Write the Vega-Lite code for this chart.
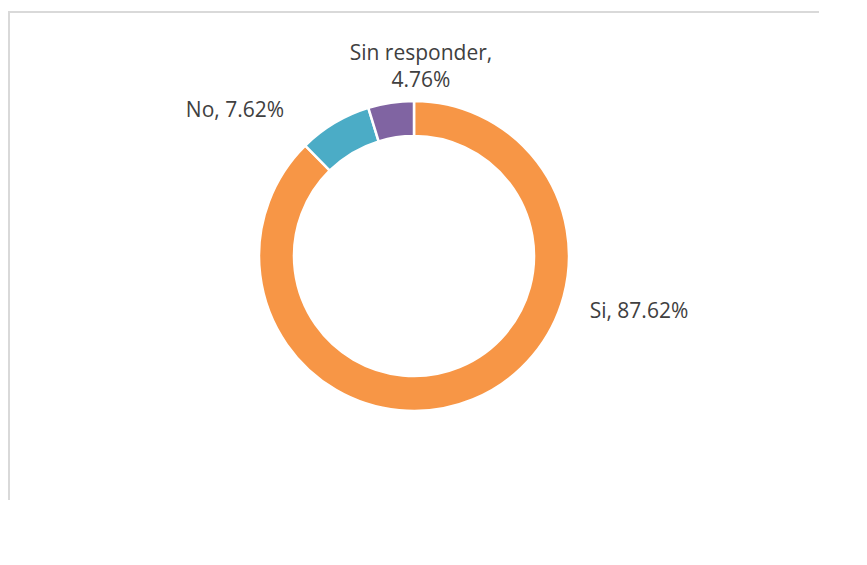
{
  "$schema": "https://vega.github.io/schema/vega-lite/v6.json",
  "width": 810,
  "height": 488,
  "autosize": {"type": "none"},
  "padding": {"left": 9, "top": 12, "right": 0, "bottom": 0},
  "background": "white",
  "view": {"stroke": "#d9d9d9", "strokeWidth": 2, "strokeDash": [810, 1298, 488]},
  "data": {
    "values": [
      {"cat": "Si", "valor": 87.62, "orden": 1, "etiqueta": "Si, 87.62%"},
      {"cat": "No", "valor": 7.62, "orden": 2, "etiqueta": "No, 7.62%"},
      {"cat": "Sin responder", "valor": 4.76, "orden": 3, "etiqueta": "Sin responder,\n4.76%"}
    ]
  },
  "encoding": {
    "theta": {"field": "valor", "type": "quantitative", "stack": true},
    "order": {"field": "orden", "type": "quantitative"}
  },
  "layer": [
    {
      "mark": {"type": "arc", "outerRadius": 155, "innerRadius": 120, "stroke": "white", "strokeWidth": 2.5},
      "encoding": {
        "color": {
          "field": "cat",
          "type": "nominal",
          "scale": {"domain": ["Si", "No", "Sin responder"], "range": ["#F79646", "#4BACC6", "#8064A2"]},
          "legend": null
        }
      }
    },
    {
      "mark": {"type": "text", "radius": 175, "dx": 158.6, "dy": -106, "fontSize": 21, "font": "Open Sans", "color": "#404040", "baseline": "middle", "align": "center"},
      "encoding": {
        "text": {"condition": {"test": "datum.cat === 'Si'", "field": "etiqueta"}, "value": ""}
      }
    },
    {
      "mark": {"type": "text", "radius": 175, "dx": -89.3, "dy": 5, "fontSize": 21, "font": "Open Sans", "color": "#404040", "baseline": "middle", "align": "center"},
      "encoding": {
        "text": {"condition": {"test": "datum.cat === 'No'", "field": "etiqueta"}, "value": ""}
      }
    },
    {
      "mark": {"type": "text", "radius": 175, "dx": 33, "dy": -28.5, "fontSize": 21, "font": "Open Sans", "color": "#404040", "baseline": "middle", "align": "center", "lineBreak": "\n", "lineHeight": 27},
      "encoding": {
        "text": {"condition": {"test": "datum.cat === 'Sin responder'", "field": "etiqueta"}, "value": ""}
      }
    }
  ]
}
